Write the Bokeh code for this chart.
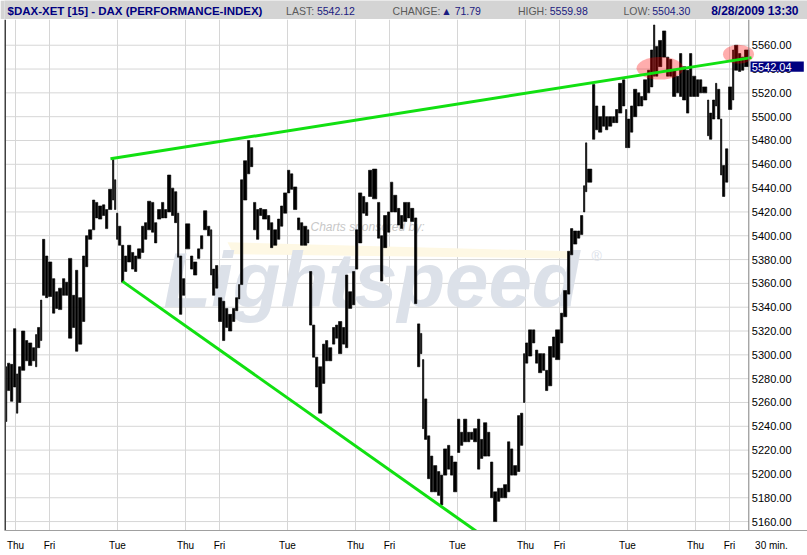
import numpy as np
from bokeh.plotting import figure
from bokeh.models import ColumnDataSource, FixedTicker, Range1d
from bokeh.layouts import column
from bokeh.embed import file_html
from bokeh.resources import INLINE
from bokeh.core.properties import value

# ---------------- data (15-minute bars, grouped) ----------------
# bar index counted from the first 15-min bar shown (Wed 29 Jul 2009, afternoon)
bar_start = [0, 2, 5, 8, 11, 13, 16, 20, 23, 27, 30, 32, 35, 37, 40, 43, 47, 50, 53, 57,
             60, 63, 67, 70, 73, 77, 80, 83, 87, 90, 93, 97, 100, 103, 107, 109, 111, 113, 116, 119,
             122, 126, 129, 132, 136, 139, 142, 146, 149, 152, 156, 159, 162, 166, 169, 172, 174, 177, 180, 185,
             188, 192, 195, 198, 202, 205, 207, 210, 213, 217, 220, 223, 227, 230, 233, 235, 238, 242, 245, 248,
             251, 254, 257, 262, 265, 268, 272, 275, 278, 282, 285, 288, 292, 295, 298, 302, 304, 307, 310, 313,
             317, 320, 323, 327, 330, 333, 337, 340, 343, 347, 350, 353, 357, 360, 363, 367, 372, 375, 378, 382,
             385, 388, 392, 395, 398, 402, 405, 409, 412, 415, 417, 419, 422, 425, 428, 432, 435, 438, 442, 445,
             448, 452, 455, 458, 462, 465, 468, 472, 475, 478, 482, 485, 488, 492, 495, 498, 502, 505, 508, 512,
             515, 518, 520, 523, 527, 530, 533, 537, 540, 543, 547, 550, 555, 558, 562, 565, 568, 572, 575, 578,
             580, 582, 587, 590, 593, 597, 600, 603, 607, 610, 613, 617, 620, 622, 625, 628, 632, 635, 638, 642,
             645, 648, 650, 653, 657, 661, 664, 667, 671, 674, 677, 681, 684, 687, 691, 694, 697, 702, 704, 707,
             710, 712, 715, 717, 720, 723, 727, 729, 733, 736, 739]
bar_high = [5290, 5293, 5292, 5322, 5284, 5290, 5320, 5312, 5310, 5306, 5317, 5323, 5346, 5397, 5383, 5378, 5364, 5353, 5356, 5364,
            5361, 5381, 5350, 5371, 5348, 5383, 5400, 5405, 5430, 5428, 5425, 5426, 5422, 5439, 5464, 5447, 5419, 5408, 5392, 5383,
            5392, 5386, 5383, 5389, 5408, 5411, 5429, 5428, 5411, 5422, 5428, 5422, 5451, 5440, 5437, 5419, 5383, 5364, 5410, 5383,
            5378, 5389, 5400, 5421, 5408, 5405, 5372, 5375, 5348, 5345, 5339, 5334, 5339, 5348, 5359, 5447, 5463, 5480, 5474, 5428,
            5422, 5423, 5422, 5417, 5411, 5405, 5414, 5425, 5436, 5455, 5452, 5441, 5415, 5411, 5408, 5405, 5370, 5325, 5298, 5290,
            5309, 5312, 5306, 5323, 5325, 5328, 5323, 5367, 5353, 5370, 5405, 5436, 5433, 5428, 5455, 5456, 5428, 5400, 5417, 5420,
            5445, 5434, 5423, 5417, 5428, 5428, 5423, 5415, 5326, 5318, 5296, 5263, 5232, 5215, 5207, 5202, 5199, 5221, 5224, 5215,
            5210, 5246, 5235, 5246, 5235, 5235, 5238, 5246, 5229, 5243, 5235, 5210, 5185, 5188, 5188, 5191, 5227, 5221, 5207, 5249,
            5251, 5301, 5310, 5321, 5321, 5304, 5301, 5301, 5287, 5307, 5315, 5321, 5335, 5354, 5387, 5406, 5404, 5404, 5417, 5442,
            5478, 5456, 5527, 5509, 5500, 5509, 5500, 5500, 5500, 5506, 5528, 5531, 5506, 5498, 5509, 5523, 5520, 5517, 5531, 5539,
            5556, 5577, 5559, 5564, 5572, 5550, 5548, 5539, 5534, 5553, 5542, 5539, 5553, 5534, 5531, 5531, 5525, 5514, 5503, 5514,
            5528, 5523, 5498, 5459, 5473, 5525, 5556, 5560, 5553, 5550, 5556]
bar_low = [5244, 5270, 5261, 5273, 5251, 5260, 5287, 5295, 5291, 5295, 5290, 5306, 5312, 5350, 5348, 5349, 5335, 5339, 5338, 5350,
           5350, 5314, 5323, 5303, 5309, 5328, 5374, 5397, 5405, 5415, 5414, 5417, 5406, 5422, 5430, 5422, 5397, 5392, 5361, 5370,
           5378, 5372, 5370, 5381, 5386, 5397, 5405, 5403, 5394, 5414, 5415, 5415, 5420, 5417, 5411, 5382, 5334, 5350, 5389, 5372,
           5367, 5381, 5389, 5405, 5400, 5367, 5350, 5356, 5328, 5312, 5323, 5320, 5328, 5337, 5347, 5359, 5430, 5452, 5458, 5405,
           5397, 5417, 5414, 5405, 5390, 5392, 5397, 5408, 5419, 5436, 5439, 5422, 5405, 5392, 5392, 5394, 5325, 5298, 5273, 5251,
           5276, 5295, 5295, 5309, 5314, 5301, 5309, 5306, 5339, 5342, 5372, 5394, 5419, 5417, 5433, 5431, 5398, 5362, 5390, 5403,
           5420, 5420, 5409, 5406, 5412, 5415, 5412, 5343, 5290, 5301, 5238, 5229, 5196, 5185, 5185, 5182, 5174, 5199, 5204, 5199,
           5185, 5218, 5224, 5227, 5227, 5229, 5227, 5204, 5213, 5215, 5215, 5180, 5160, 5177, 5180, 5180, 5185, 5199, 5199, 5202,
           5224, 5260, 5293, 5299, 5310, 5293, 5285, 5287, 5270, 5274, 5298, 5296, 5310, 5332, 5351, 5384, 5393, 5398, 5401, 5420,
           5437, 5445, 5481, 5489, 5487, 5492, 5489, 5492, 5495, 5495, 5503, 5509, 5474, 5474, 5487, 5500, 5509, 5509, 5514, 5520,
           5525, 5534, 5534, 5542, 5550, 5534, 5534, 5517, 5520, 5517, 5514, 5503, 5517, 5517, 5517, 5520, 5520, 5484, 5481, 5498,
           5509, 5498, 5451, 5433, 5445, 5506, 5514, 5539, 5538, 5539, 5542]
last_bar = 743            # Fri 28 Aug 13:30 bar

# trading sessions: 34 quarter-hour bars per Xetra day (09:00-17:30)
bars_per_day = 34
first_session_start = -24
session_days = ["Wed", "Thu", "Fri", "Mon", "Tue", "Wed", "Thu", "Fri", "Mon", "Tue", "Wed", "Thu",
                "Fri", "Mon", "Tue", "Wed", "Thu", "Fri", "Mon", "Tue", "Wed", "Thu", "Fri"]
labelled_days = ("Thu", "Fri", "Tue")
interval_text = "30 min."

price_ticks = list(range(5160, 5561, 20))
last_price = 5542.04

# trend lines (bar, price)
upper_trend_bar = [105, 746]
upper_trend_price = [5464.6, 5549.6]
lower_trend_bar = [117, 474]
lower_trend_price = [5361.7, 5150.0]

# highlighted zones
zone_bar = [654.5, 733]
zone_price = [5540.7, 5552.5]
zone_w = [47, 31]
zone_h = [19, 16]

# header
title_text = "$DAX-XET [15] - DAX (PERFORMANCE-INDEX)"
stat_labels = ["LAST:", "CHANGE:", "HIGH:", "LOW:"]
stat_values = ["5542.12", "\u25b2 71.79", "5559.98", "5504.30"]
stamp_text = "8/28/2009 13:30"

FONT = "Liberation Sans"
NAVY = "#000080"
W = 807

# ---------------- header ----------------
hdr = figure(width=W, height=19, x_range=Range1d(0, W), y_range=Range1d(19, 0),
             x_axis_type=None, y_axis_type=None, toolbar_location=None,
             output_backend="svg", min_border=0)
hdr.background_fill_color = "#d4d4d4"
hdr.border_fill_color = "#d4d4d4"
hdr.outline_line_color = None
hdr.grid.visible = False
hdr.text(x=[3], y=[10], text=[title_text], text_font=value(FONT), text_font_style="bold",
         text_font_size="11.5px", text_color=NAVY, text_baseline="middle")
lab_x = [283, 390, 516, 622]
val_x = [314, 439, 548, 651]
hdr.text(x=lab_x, y=[10] * 4, text=stat_labels, text_font=value(FONT), text_font_size="10.5px",
         text_color="#5a5a5a", text_baseline="middle")
hdr.text(x=val_x, y=[10] * 4, text=stat_values, text_font=value(FONT), text_font_size="10.5px",
         text_color="#1a1a80", text_baseline="middle")
hdr.text(x=[798], y=[10], text=[stamp_text], text_font=value(FONT), text_font_style="bold",
         text_font_size="12px", text_color=NAVY, text_align="right", text_baseline="middle")

# ---------------- main chart ----------------
x0 = -1
data_right = last_bar + 0.3
x1 = 802
y0, y1 = 5152.5, 5581.6
p = figure(width=W, height=534, x_range=Range1d(x0, x1), y_range=Range1d(y0, y1),
           y_axis_type=None, toolbar_location=None, output_backend="svg",
           min_border_left=4, min_border_right=0, min_border_top=0, min_border_bottom=17)
p.background_fill_color = "white"
p.border_fill_color = "white"
p.outline_line_color = None
p.grid.visible = False

day_ticks, tick_labels = [], {}
for i, d in enumerate(session_days):
    if d in labelled_days:
        t = first_session_start + i * bars_per_day
        day_ticks.append(t)
        tick_labels[t] = d
note_tick = last_bar + 23
tick_labels[note_tick] = interval_text

p.xaxis.ticker = FixedTicker(ticks=day_ticks + [note_tick])
p.xaxis.major_label_overrides = tick_labels
p.xaxis.major_tick_line_color = None
p.xaxis.minor_tick_line_color = None
p.xaxis.major_label_text_font = FONT
p.xaxis.major_label_text_font_size = "10px"
p.xaxis.major_label_text_color = "black"
p.xaxis.major_label_standoff = 3
p.xaxis.axis_line_color = "#a0a0a0"

GRID = "#d6d6d6"
# horizontal grid (only across the price area)
p.segment(x0=[x0] * len(price_ticks), x1=[data_right] * len(price_ticks), y0=price_ticks, y1=price_ticks,
          line_color=GRID, line_width=1)
# vertical grid at labelled sessions
p.segment(x0=day_ticks, x1=day_ticks, y0=[y0] * len(day_ticks), y1=[y1] * len(day_ticks),
          line_color=GRID, line_width=1)

# watermark
p.patch(x=[222, 565, 562, 228], y=[5394.5, 5387, 5381, 5384.5], color="#fef8e4", line_color=None)
p.text(x=[158], y=[5363], text=["Lightspeed"], text_font=value(FONT), text_font_style="bold italic",
       text_font_size="78px", text_color="#dce1e9", text_baseline="alphabetic")
p.text(x=[305], y=[5407.5], text=["Charts sponsored by:"], text_font=value(FONT), text_font_style="italic",
       text_font_size="12px", text_color="#c8c8c8", text_baseline="alphabetic")
p.text(x=[586], y=[5383], text=["\u00ae"], text_font=value(FONT),
       text_font_size="14px", text_color="#dce1e9", text_baseline="alphabetic")

# price bars
left = np.array(bar_start, dtype=float)
right = np.append(left[1:], last_bar + 1)
src = ColumnDataSource(dict(left=left, right=right - 0.7, top=bar_high, bottom=bar_low))
p.quad(left="left", right="right", top="top", bottom="bottom", source=src,
       fill_color="black", line_color="black", line_width=0.6)

# highlight zones
p.ellipse(x=zone_bar, y=zone_price, width=zone_w, height=zone_h,
          fill_color="red", fill_alpha=0.32, line_color=None)

# trend lines
p.line(upper_trend_bar, upper_trend_price, line_color="#11e011", line_width=3)
p.line(lower_trend_bar, lower_trend_price, line_color="#11e011", line_width=3)

# frame borders
p.segment(x0=[x0 + 0.5], x1=[x0 + 0.5], y0=[y0], y1=[y1], line_color="#404040", line_width=2)
p.segment(x0=[data_right], x1=[data_right], y0=[y0], y1=[y1], line_color="#808080", line_width=1)

# price scale labels (right of price area)
p.text(x=[data_right + 3] * len(price_ticks), y=price_ticks, text=[f"{v:.2f}" for v in price_ticks],
       text_font=value(FONT), text_font_size="11px", text_color="black", text_baseline="middle")

# last price tag
tag_h = 4.3
p.quad(left=[data_right + 1.7], right=[data_right + 55], top=[last_price + tag_h], bottom=[last_price - tag_h],
       fill_color=NAVY, line_color=None)
p.text(x=[data_right + 3], y=[last_price], text=[f"{last_price:.2f}"], text_font=value(FONT),
       text_font_size="11px", text_color="white", text_baseline="middle")

# footer strip
ftr = figure(width=W, height=2, x_range=Range1d(0, 1), y_range=Range1d(0, 1),
             x_axis_type=None, y_axis_type=None, toolbar_location=None,
             output_backend="svg", min_border=0)
ftr.background_fill_color = "#a0a0a0"
ftr.border_fill_color = "#a0a0a0"
ftr.outline_line_color = None
ftr.grid.visible = False

layout = column(hdr, p, ftr, spacing=0)
open("out.html", "w").write(file_html(layout, INLINE))
